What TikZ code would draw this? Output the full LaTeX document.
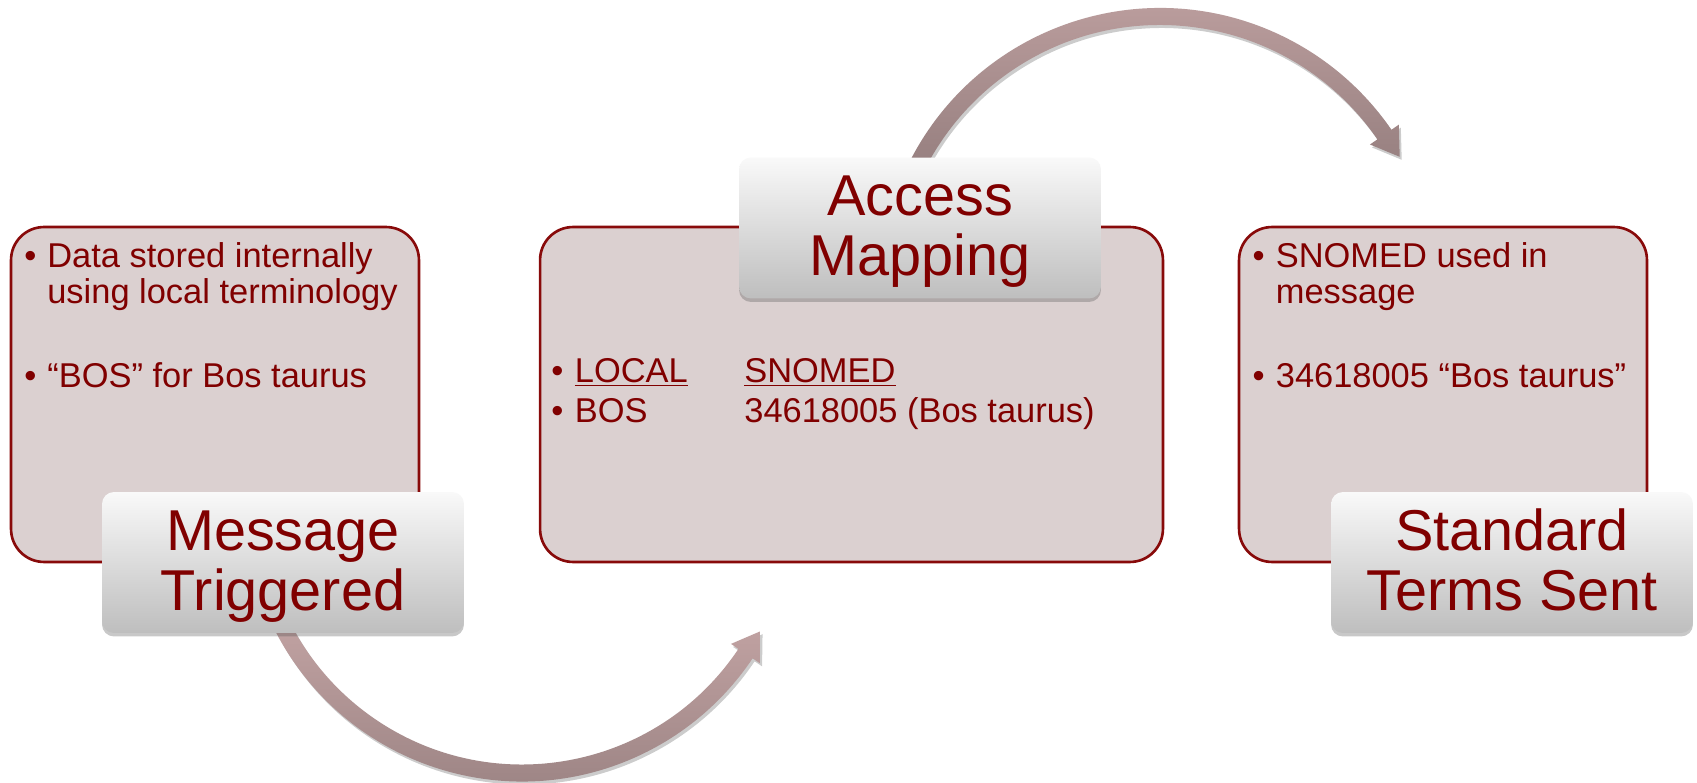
\documentclass[tikz,border=0pt]{standalone}
\usepackage{fontspec}
\setmainfont{Liberation Sans}
\usetikzlibrary{shadows, calc}

\definecolor{boxfill}{RGB}{219,208,208}
\definecolor{boxline}{RGB}{136,10,10}
\definecolor{termred}{RGB}{128,0,0}
\definecolor{arrowlight}{RGB}{194,163,163}
\definecolor{arrowdark}{RGB}{150,127,127}
\definecolor{headtop}{RGB}{249,249,249}
\definecolor{headbot}{RGB}{190,190,190}

\newcommand\headstrut{\rule{0pt}{0.82em}}

\begin{document}
\begin{tikzpicture}[
        x=0.02cm, y=0.02cm,
        panel/.style={rectangle, draw=boxline, line width=1.5pt, fill=boxfill, rounded corners=0.66cm, minimum height=6.7cm},
        headbox/.style={rectangle, rounded corners=0.24cm, top color=headtop, bottom color=headbot, minimum width=7.24cm, minimum height=2.82cm, align=center, text=termred, font=\fontsize{32.8}{34.1}\selectfont, drop shadow={shadow xshift=0pt, shadow yshift=-0.07cm, opacity=0.3, fill=black!70}},
        bodytext/.style={anchor=base west, inner sep=0pt, text=termred, font=\fontsize{19.6}{20.5}\selectfont},
        bulletmark/.style={bodytext, anchor=base},
        curvearrow/.style={top color=arrowlight, bottom color=arrowdark, drop shadow={shadow xshift=0.04cm, shadow yshift=-0.06cm, opacity=0.2, fill=black}}
    ]
        \path[use as bounding box, fill=white] (0,0) rectangle (1697,-783);

        % the three panels
        \node[panel, minimum width=8.16cm] (panel1) at (215,-394.5) {};
        \node[panel, minimum width=12.46cm] (panel2) at (851.5,-394.5) {};
        \node[panel, minimum width=8.16cm] (panel3) at (1443,-394.5) {};

        % curved arrows
        \coordinate (c1) at (522,-504);
        \coordinate (c2) at (1160,-288.8);
        \path[curvearrow] ($(c1)+(206:277.5)$) arc[start angle=206, end angle=326.2, radius=277.5]
            -- ($(c1)+(326.2:286.5)$) -- ($(c1)+(326.2:269)+(56.2:27)$) -- ($(c1)+(326.2:251.5)$)
            -- ($(c1)+(326.2:260.5)$) arc[start angle=326.2, end angle=206, radius=260.5] -- cycle;
        \path[curvearrow] ($(c2)+(153:280.8)$) arc[start angle=153, end angle=34.5, radius=280.8]
            -- ($(c2)+(34.5:289.8)$) -- ($(c2)+(34.5:272.3)+(-55.5:27)$) -- ($(c2)+(34.5:254.8)$)
            -- ($(c2)+(34.5:263.8)$) arc[start angle=34.5, end angle=153, radius=263.8] -- cycle;

        % panel texts
        \node[bulletmark] (m1a) at (30.5,-268) {•};
        \node[bodytext] (t1a) at (47,-268) {Data stored internally};
        \node[bodytext] (t1b) at (47,-304) {using local terminology};
        \node[bulletmark] (m1b) at (30.5,-388) {•};
        \node[bodytext] (t1c) at (47,-388) {“BOS” for Bos taurus};

        \node[bulletmark] (m2a) at (557.4,-383) {•};
        \node[bodytext] (t2a) at (574.5,-383) {\underline{LOCAL}};
        \node[bodytext] (t2b) at (744,-383) {\underline{SNOMED}};
        \node[bulletmark] (m2b) at (557.4,-423) {•};
        \node[bodytext] (t2c) at (574.5,-423) {BOS};
        \node[bodytext] (t2d) at (744,-423) {34618005 (Bos taurus)};

        \node[bulletmark] (m3a) at (1258.7,-268) {•};
        \node[bodytext] (t3a) at (1275.5,-268) {SNOMED used in};
        \node[bodytext] (t3b) at (1275.5,-304) {message};
        \node[bulletmark] (m3b) at (1258.7,-388) {•};
        \node[bodytext] (t3c) at (1275.5,-388) {34618005 “Bos taurus”};

        % step titles
        \node[headbox] (head1) at (283,-562.5) {\headstrut Message\\Triggered};
        \node[headbox] (head2) at (920,-228) {\headstrut Access\\Mapping};
        \node[headbox] (head3) at (1512,-562.5) {\headstrut Standard\\Terms Sent\vphantom{g}};

    \end{tikzpicture}
\end{document}
